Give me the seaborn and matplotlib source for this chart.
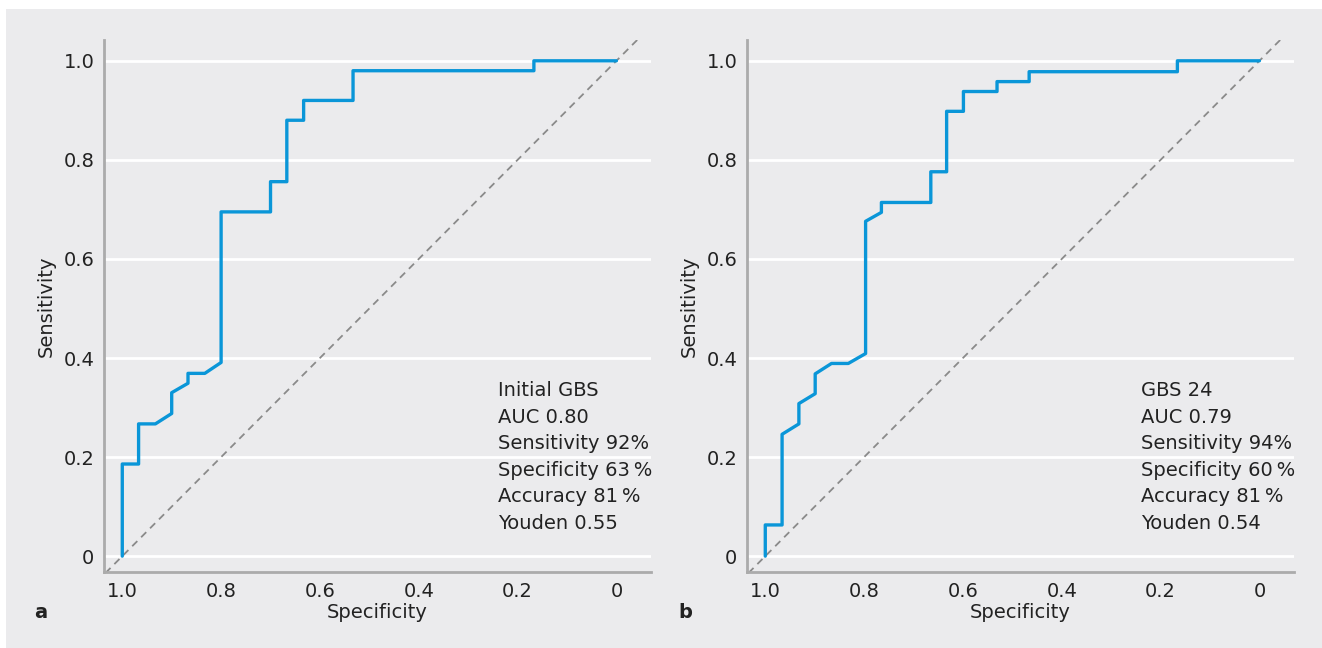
import matplotlib
matplotlib.use('Agg')
import numpy as np
import pandas as pd
import seaborn as sns
from matplotlib import pyplot as plt
from matplotlib.patches import Rectangle

# ROC vertices (specificity, sensitivity)
spec_a = [1.0, 1.0, 0.967, 0.967, 0.933, 0.9, 0.9, 0.867, 0.867, 0.833, 0.8, 0.8,
          0.7, 0.7, 0.667, 0.667, 0.633, 0.633, 0.533, 0.533, 0.167, 0.167, 0.0]
sens_a = [0.0, 0.186, 0.186, 0.267, 0.267, 0.288, 0.330, 0.349, 0.369, 0.369, 0.391, 0.695,
          0.695, 0.756, 0.756, 0.880, 0.880, 0.920, 0.920, 0.980, 0.980, 1.0, 1.0]

spec_b = [1.0, 1.0, 0.966, 0.966, 0.932, 0.932, 0.899, 0.899, 0.866, 0.832, 0.797, 0.797,
          0.765, 0.765, 0.665, 0.665, 0.633, 0.633, 0.599, 0.599, 0.531, 0.531, 0.466, 0.466,
          0.166, 0.166, 0.0]
sens_b = [0.0, 0.063, 0.063, 0.246, 0.267, 0.308, 0.328, 0.368, 0.389, 0.389, 0.409, 0.676,
          0.694, 0.714, 0.714, 0.776, 0.776, 0.898, 0.898, 0.938, 0.938, 0.958, 0.958, 0.978,
          0.978, 1.0, 1.0]

stats_a = ["Initial GBS", "AUC 0.80", "Sensitivity 92%", "Specificity 63\u2009%",
           "Accuracy 81\u2009%", "Youden 0.55"]
stats_b = ["GBS 24", "AUC 0.79", "Sensitivity 94%", "Specificity 60\u2009%",
           "Accuracy 81\u2009%", "Youden 0.54"]

tick_vals = [1.0, 0.8, 0.6, 0.4, 0.2, 0.0]
tick_labels = ["1.0", "0.8", "0.6", "0.4", "0.2", "0"]

BG = "#ebebed"
LINE = "#0a96d8"
SPINE = "#ababab"
TXT = "#222222"
FS = 14

sns.set_style("white")
plt.rcParams['font.family'] = ['DejaVu Sans']

W, H = 1322, 648
fig = plt.figure(figsize=(W / 100, H / 100), dpi=100)
fig.patch.set_facecolor("white")
fig.add_artist(Rectangle((6 / W, 0), 1 - 6 / W, 1 - 9 / H, transform=fig.transFigure,
                         facecolor=BG, edgecolor="none", zorder=-10))

panels = [
    (104, (spec_a, sens_a), stats_a, "a", 41),
    (747, (spec_b, sens_b), stats_b, "b", 685),
]

for left_px, (spec, sens), stats, letter, letter_x in panels:
    ax = fig.add_axes([left_px / W, 1 - 572 / H, 547 / W, 532 / H])
    ax.set_facecolor(BG)

    for y in tick_vals:
        ax.axhline(y, color="white", lw=2, zorder=1)

    ax.axline((1, 0), (0, 1), color="#8a8a8a", lw=1.3, ls=(0, (4, 3)), zorder=2)

    df = pd.DataFrame({"Specificity": spec, "Sensitivity": sens})
    sns.lineplot(data=df, x="Specificity", y="Sensitivity", sort=False, estimator=None,
                 color=LINE, lw=2.4, ax=ax, zorder=3)

    ax.set_xlim(1.037, -0.07)
    ax.set_ylim(-0.032, 1.042)
    ax.set_xticks(tick_vals)
    ax.set_xticklabels(tick_labels)
    ax.set_yticks(tick_vals)
    ax.set_yticklabels(tick_labels)
    ax.tick_params(length=0, labelsize=FS, colors=TXT, pad=7)
    ax.set_xlabel("Specificity", fontsize=FS, color=TXT, labelpad=2)
    ax.set_ylabel("Sensitivity", fontsize=FS, color=TXT, labelpad=5.5)

    for side in ["top", "right"]:
        ax.spines[side].set_visible(False)
    for side in ["left", "bottom"]:
        ax.spines[side].set_color(SPINE)
        ax.spines[side].set_linewidth(2)

    ax.text(0.72, 0.359, "\n".join(stats), transform=ax.transAxes, fontsize=FS,
            color=TXT, va="top", ha="left", linespacing=1.5)
    fig.text(letter_x / W, 1 - 613 / H, letter, fontsize=FS, fontweight="bold",
             color=TXT, ha="center", va="center")

fig.savefig("out.png", dpi=100, facecolor=fig.get_facecolor())
